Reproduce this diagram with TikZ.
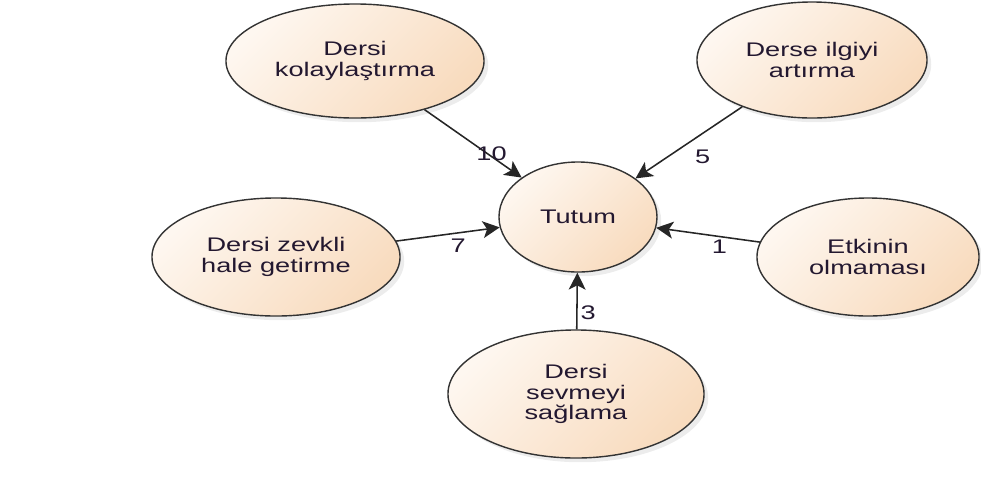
\documentclass[tikz,border=0pt]{standalone}
\usepackage{fontspec}
\setmainfont{Liberation Sans}[FakeStretch=1.38]
\usetikzlibrary{arrows.meta,shapes.geometric,shadows}
\definecolor{peachlt}{HTML}{FEF7F0}
\definecolor{peachdk}{HTML}{F8DBBE}
\definecolor{inktxt}{HTML}{231830}
\begin{document}
\begin{tikzpicture}[x=0.025cm, y=-0.025cm,
        bubble/.style={ellipse, draw=black!80, line width=1pt, top color=peachlt, bottom color=peachdk, shading angle=45,
            drop shadow={shadow xshift=3pt, shadow yshift=-3pt, opacity=0.15}, align=center, text=inktxt,
            font=\fontsize{14}{14.5}\selectfont, inner sep=0pt},
        link/.style={-{Stealth[length=12pt,width=12pt,inset=3pt]}, line width=1.1pt, black!85},
        wt/.style={font=\fontsize{14}{14.5}\selectfont, inner sep=1pt, text=inktxt}]
        \useasboundingbox (0,0) rectangle (981,482);
        % outer factors
        \node[bubble, minimum width=6.45cm, minimum height=2.85cm] (kolay) at (355,61) {Dersi\\kolaylaştırma};
        \node[bubble, minimum width=5.75cm, minimum height=2.9cm] (ilgi) at (812,60) {Derse ilgiyi\\artırma};
        \node[bubble, minimum width=6.2cm, minimum height=2.95cm] (zevk) at (276,257) {Dersi zevkli\\hale getirme};
        \node[bubble, minimum width=5.55cm, minimum height=2.95cm] (etkin) at (868,257) {Etkinin\\olmaması};
        \node[bubble, minimum width=6.4cm, minimum height=3.2cm] (sevme) at (576,394) {Dersi\\sevmeyi\\sağlama};
        % centre
        \node[bubble, minimum width=3.95cm, minimum height=2.75cm] (tutum) at (578,217) {Tutum};
        \draw[link] (kolay) -- (tutum) node[wt, pos=0.69, yshift=2pt] {10};
        \draw[link] (ilgi) -- (tutum) node[wt, pos=0.37, yshift=-17pt] {5};
        \draw[link] (zevk) -- (tutum) node[wt, pos=0.6, yshift=-9pt] {7};
        \draw[link] (etkin) -- (tutum) node[wt, pos=0.39, yshift=-7.5pt] {1};
        \draw[link] (sevme) -- (tutum) node[wt, pos=0.3, xshift=8pt] {3};
\end{tikzpicture}
\end{document}
